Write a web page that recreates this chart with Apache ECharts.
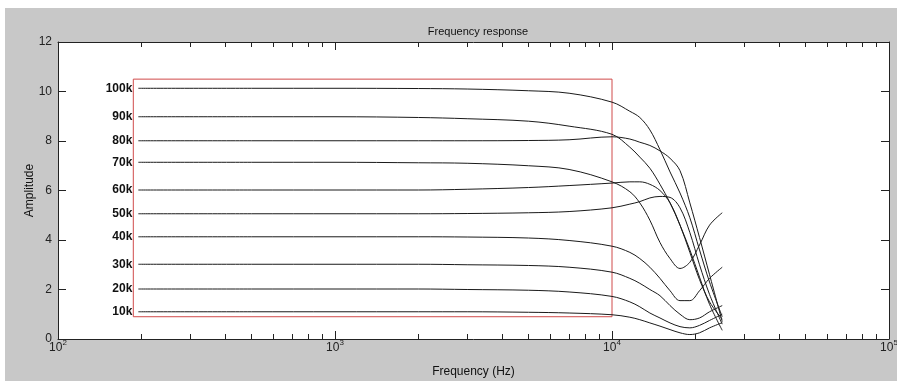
<!DOCTYPE html>
<html>
<head>
<meta charset="utf-8">
<title>Frequency response</title>
<style>
  html, body { margin: 0; padding: 0; background: #fff; }
  #main { width: 897px; height: 381px; }
</style>
<script src="https://cdn.jsdelivr.net/npm/echarts@6/dist/echarts.min.js"></script>
</head>
<body>
<div id="main"></div>
<script>
// frequency points (Hz), shared by all curves
const freqs = [195, 500, 1000, 2000, 3000, 5000, 7000, 10000, 11600, 12600, 13700, 14900, 16200, 17600, 19100, 20700, 22500, 25000];

// amplitude per curve
const amp100k = [10.13, 10.13, 10.13, 10.12, 10.1, 10.03, 9.93, 9.57, 9.2, 8.95, 8.45, 7.65, 6.75, 5.9, 4.9, 3.6, 2.3, 0.9];
const amp90k = [8.98, 8.98, 8.98, 8.95, 8.9, 8.8, 8.6, 8.27, 7.75, 7.35, 6.9, 6.25, 5.5, 4.6, 3.6, 2.5, 1.4, 0.35];
const amp80k = [8.01, 8.01, 8.01, 8.01, 8.01, 8.02, 8.05, 8.17, 8.08, 7.95, 7.82, 7.6, 7.3, 6.8, 5.5, 4.1, 2.6, 0.7];
const amp70k = [7.14, 7.14, 7.14, 7.12, 7.1, 7.0, 6.85, 6.35, 5.95, 5.5, 4.8, 3.9, 3.25, 2.85, 3.1, 3.8, 4.6, 5.1];
const amp60k = [6.02, 6.02, 6.02, 6.02, 6.05, 6.12, 6.2, 6.3, 6.35, 6.35, 6.25, 6.0, 5.5, 4.6, 3.5, 2.4, 1.5, 0.8];
const amp50k = [5.06, 5.06, 5.06, 5.06, 5.07, 5.1, 5.15, 5.3, 5.45, 5.55, 5.7, 5.76, 5.72, 5.3, 4.3, 3.0, 1.8, 0.6];
const amp40k = [4.13, 4.13, 4.13, 4.13, 4.12, 4.08, 3.98, 3.75, 3.5, 3.25, 2.9, 2.45, 1.95, 1.55, 1.55, 1.95, 2.45, 2.9];
const amp30k = [3.02, 3.02, 3.02, 3.02, 3.0, 2.97, 2.9, 2.7, 2.45, 2.25, 2.0, 1.75, 1.35, 1.0, 0.78, 0.85, 1.1, 1.35];
const amp20k = [2.02, 2.02, 2.02, 2.02, 2.0, 1.97, 1.9, 1.72, 1.5, 1.3, 1.05, 0.85, 0.65, 0.5, 0.45, 0.55, 0.75, 1.0];
const amp10k = [1.1, 1.1, 1.1, 1.1, 1.1, 1.08, 1.05, 0.98, 0.88, 0.78, 0.65, 0.52, 0.38, 0.25, 0.18, 0.25, 0.45, 0.66];

const curveNames = ["100k", "90k", "80k", "70k", "60k", "50k", "40k", "30k", "20k", "10k"];
const curveAmps = [amp100k, amp90k, amp80k, amp70k, amp60k, amp50k, amp40k, amp30k, amp20k, amp10k];

// red frame around the flat region
const boxFreq = [187, 10000];
const boxAmp = [0.9, 10.5];

// axis ticks
const xMajorTicks = [100, 1000, 10000, 100000];
const xMinorTicks = [200, 300, 400, 500, 600, 700, 800, 900,
	2000, 3000, 4000, 5000, 6000, 7000, 8000, 9000,
	20000, 30000, 40000, 50000, 60000, 70000, 80000, 90000];

const FONT = "'Liberation Sans', Arial, sans-serif";
const AXIS_COLOR = "#222";

const chart = echarts.init(document.getElementById("main"));

// one line series per curve, name label on its first point
const lineSeries = curveNames.map((name, k) => ({
	name: name,
	type: "line",
	xAxisIndex: 0,
	yAxisIndex: 0,
	smooth: 0.35,
	symbol: "circle",
	symbolSize: 0,
	showSymbol: true,
	lineStyle: { color: "#1a1a1a", width: 1 },
	itemStyle: { color: "#1a1a1a" },
	label: {
		show: false,
		position: "left",
		distance: 6,
		formatter: name,
		color: "#111",
		fontSize: 12,
		fontWeight: "bold",
		fontFamily: FONT
	},
	emphasis: { disabled: true },
	data: freqs.map((f, i) => i === 0
		? { value: [f, curveAmps[k][i]], label: { show: true } }
		: [f, curveAmps[k][i]])
}));

// red frame drawn as a mark area on the first curve
lineSeries[0].markArea = {
	silent: true,
	itemStyle: { color: "rgba(0,0,0,0)", borderColor: "#d04a4a", borderWidth: 1 },
	data: [[{ coord: [boxFreq[0], boxAmp[0]] }, { coord: [boxFreq[1], boxAmp[1]] }]]
};

const logAxisBase = {
	type: "log",
	logBase: 10,
	min: 100,
	max: 100000,
	splitLine: { show: false },
	axisLabel: { show: false },
	axisLine: { show: false },
	axisTick: { show: false }
};

const option = {
	backgroundColor: "#c8c8c8",
	animation: false,
	title: {
		text: "Frequency response",
		left: 473,
		textAlign: "center",
		top: 21,
		textStyle: { fontSize: 11, fontWeight: "normal", color: "#111", fontFamily: FONT }
	},
	graphic: [
		{ type: "rect", left: 0, top: 0, shape: { width: 897, height: 8 }, style: { fill: "#fff" }, silent: true },
		{ type: "rect", left: 0, top: 0, shape: { width: 5, height: 381 }, style: { fill: "#fff" }, silent: true }
	],
	grid: {
		left: 58,
		right: 8,
		top: 42,
		bottom: 42,
		outerBoundsMode: "none",
		show: true,
		backgroundColor: "#fff",
		borderWidth: 0
	},
	xAxis: [
		Object.assign({}, logAxisBase, {
			position: "bottom",
			name: "Frequency (Hz)",
			nameLocation: "middle",
			nameGap: 27,
			nameMoveOverlap: false,
			nameTextStyle: { fontSize: 12, color: "#111", fontFamily: FONT },
			axisLine: { show: true, lineStyle: { color: AXIS_COLOR, width: 1 } },
			axisTick: { show: true, inside: true, length: 8, lineStyle: { color: AXIS_COLOR } },
			axisLabel: {
				show: true,
				margin: 0,
				formatter: (v) => "{b|10}{s|" + Math.round(Math.log10(v)) + "}",
				rich: {
					b: { fontSize: 12, lineHeight: 18, color: "#222", fontFamily: FONT },
					s: { fontSize: 8, lineHeight: 8, verticalAlign: "top", color: "#222", fontFamily: FONT }
				}
			}
		}),
		Object.assign({}, logAxisBase, {
			position: "bottom",
			axisTick: { show: true, inside: true, length: 5, customValues: xMinorTicks, lineStyle: { color: AXIS_COLOR } }
		}),
		Object.assign({}, logAxisBase, {
			position: "top",
			axisLine: { show: true, lineStyle: { color: AXIS_COLOR, width: 1 } },
			axisTick: { show: true, inside: true, length: 8, customValues: xMajorTicks, lineStyle: { color: AXIS_COLOR } }
		}),
		Object.assign({}, logAxisBase, {
			position: "top",
			axisTick: { show: true, inside: true, length: 5, customValues: xMinorTicks, lineStyle: { color: AXIS_COLOR } }
		})
	],
	yAxis: [
		{
			type: "value",
			position: "left",
			min: 0,
			max: 12,
			interval: 2,
			name: "Amplitude",
			nameLocation: "middle",
			nameGap: 22,
			nameMoveOverlap: false,
			nameTextStyle: { fontSize: 12, color: "#111", fontFamily: FONT },
			splitLine: { show: false },
			axisLine: { show: true, lineStyle: { color: AXIS_COLOR, width: 1 } },
			axisTick: { show: true, inside: true, length: 8, lineStyle: { color: AXIS_COLOR } },
			axisLabel: { margin: 6, fontSize: 12, color: "#222", fontFamily: FONT }
		},
		{
			type: "value",
			position: "right",
			min: 0,
			max: 12,
			interval: 2,
			splitLine: { show: false },
			axisLine: { show: true, lineStyle: { color: AXIS_COLOR, width: 1 } },
			axisTick: { show: true, inside: true, length: 8, lineStyle: { color: AXIS_COLOR } },
			axisLabel: { show: false }
		}
	],
	series: lineSeries
};

chart.setOption(option);
</script>
</body>
</html>
